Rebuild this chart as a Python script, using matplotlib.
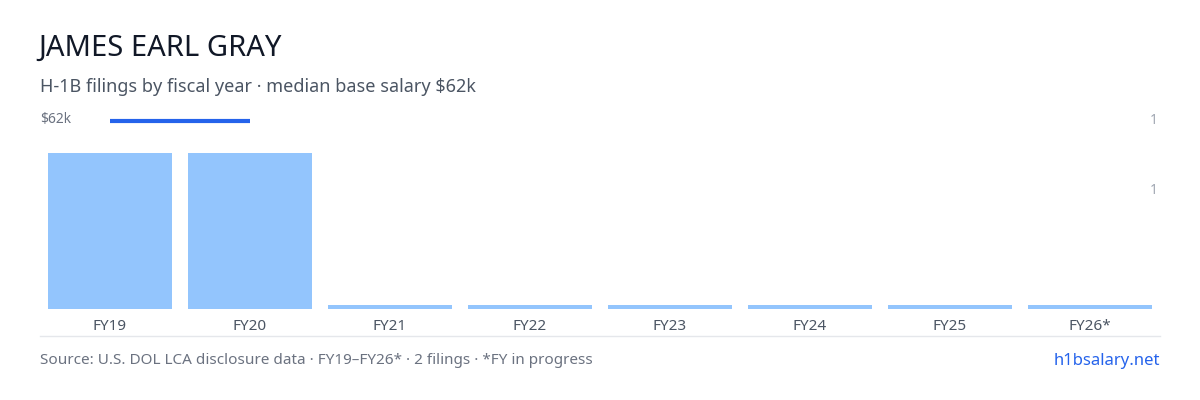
import matplotlib
matplotlib.use("Agg")
import matplotlib.pyplot as plt

years = ["FY19", "FY20", "FY21", "FY22", "FY23", "FY24", "FY25", "FY26*"]
filings = [1, 1, 0, 0, 0, 0, 0, 0]
salary_k = [62, 62, None, None, None, None, None, None]

plt.rcParams['font.family'] = ['Noto Sans', 'DejaVu Sans']
W, H = 1200, 400
fig = plt.figure(figsize=(12, 4), dpi=100)
fig.patch.set_facecolor("white")

def px(x, y):
    return x / W, 1 - y / H

ax = fig.add_axes([40 / W, 1 - 309 / H, 1120 / W, 156 / H])
ax.set_xlim(-0.5, len(years) - 0.5)
ax.set_ylim(0, 1)
ax.axis("off")
minh = 4 / 156
heights = [max(v, minh) for v in filings]
ax.bar(range(len(years)), heights, width=124 / 140, color="#93c5fd")
for i, y in enumerate(years):
    ax.text(i, -18 / 156, y, ha="center", va="center", fontsize=11, color="#4b5563")

# salary line
ly = (309 - 121) / 156
xs = [i for i, s in enumerate(salary_k) if s is not None]
ax.plot(xs, [ly] * len(xs), color="#2563eb", lw=3, clip_on=False, solid_capstyle="butt")
fig.text(*px(40, 120), f"${salary_k[0]}k", fontsize=10, color="#6b7280", va="center")
fig.text(*px(1158, 120), "1", fontsize=10, color="#9ca3af", va="center", ha="right")
fig.text(*px(1158, 191), "1", fontsize=10, color="#9ca3af", va="center", ha="right")

# baseline
fig.add_artist(plt.Line2D([40 / W, 1160 / W], [1 - 336 / H] * 2, color="#e5e7eb", lw=1))

fig.text(*px(38, 48), "JAMES EARL GRAY", fontsize=21, color="#111827", va="center")
fig.text(*px(40, 87), "H-1B filings by fiscal year · median base salary $62k", fontsize=13, color="#4b5563", va="center")
fig.text(*px(40, 361), "Source: U.S. DOL LCA disclosure data · FY19–FY26* · 2 filings · *FY in progress",
         fontsize=11, color="#6b7280", va="center")
fig.text(*px(1160, 361), "h1bsalary.net", fontsize=12, color="#2563eb", va="center", ha="right")

fig.savefig("out.png", dpi=100)
